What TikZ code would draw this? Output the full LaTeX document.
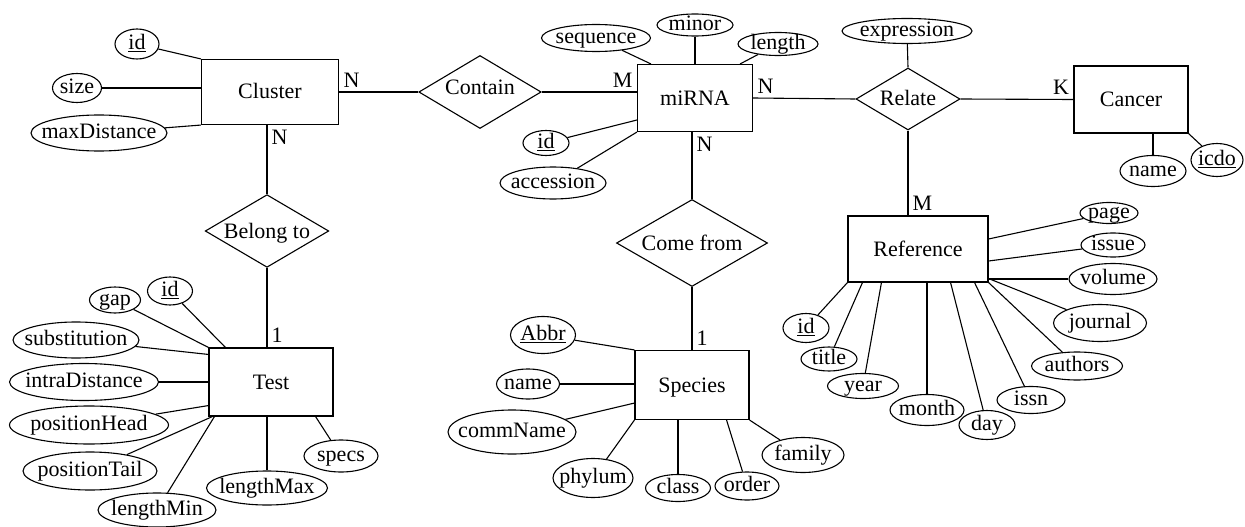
\documentclass[tikz,border=0pt]{standalone}
\usepackage{fontspec}
\setmainfont{Liberation Serif}
\usetikzlibrary{shapes.geometric}

\begin{document}
\begin{tikzpicture}[x=1pt, y=-1pt, line width=1.1pt, font=\fontsize{22}{26}\selectfont,
  entity/.style 2 args={rectangle, draw, inner sep=0pt, text height=18pt, text depth=4pt, minimum width=#1, minimum height=#2},
  relation/.style 2 args={diamond, draw, aspect=1.7, inner sep=0pt, text height=18pt, text depth=4pt, minimum width=#1, minimum height=#2},
  attr/.style n args={3}{ellipse, draw, inner sep=0pt, minimum width=#1, minimum height=#2, label={[inner sep=0pt, text height=15pt, text depth=4pt]center:#3}},
  card/.style={inner xsep=4pt, inner ysep=4pt, text height=15pt, text depth=0pt}]
  \useasboundingbox (0,0) rectangle (1245,527);

  \node[entity={137}{65}] (cluster) at (270,92) {Cluster};
  \node[entity={115}{67}] (mirna) at (695,98) {miRNA};
  \node[entity={114}{67}] (cancer) at (1131,99.5) {Cancer};
  \node[entity={140}{66}] (reference) at (918,249) {Reference};
  \node[entity={114}{69}] (species) at (692,385) {Species};
  \node[entity={124}{68}] (test) at (271,382) {Test};

  \node[relation={119}{73}, text depth=13pt] (contain) at (480,92) {Contain};
  \node[relation={104}{62}] (relate) at (908,99) {Relate};
  \node[relation={151}{87}] (comefrom) at (692,243) {Come from};
  \node[relation={120}{72}] (belongto) at (267,231) {Belong to};

  \draw (cluster.east) -- (contain.west);
  \draw (contain.east) -- (contain.east -| mirna.west);
  \draw (mirna.east) -- (relate.west);
  \draw (relate.east) -- (cancer.west);
  \draw (relate.south) -- (relate.south |- reference.north);
  \draw (belongto.north |- cluster.south) -- (belongto.north);
  \draw (belongto.south) -- (belongto.south |- test.north);
  \draw (comefrom.north |- mirna.south) -- (comefrom.north);
  \draw (comefrom.south) -- (species.north);

  \node[card, anchor=south west] (ncluster) at (cluster.east) {N};
  \node[card, anchor=north west] (nbelong) at (belongto.north |- cluster.south) {N};
  \node[card, anchor=south east] (mcontain) at (contain.east -| mirna.west) {M};
  \node[card, anchor=south west] (nrelate) at (mirna.east) {N};
  \node[card, anchor=north west] (ncome) at (comefrom.north |- mirna.south) {N};
  \node[card, anchor=south east] (kcancer) at (cancer.west) {K};
  \node[card, anchor=south west] (mreference) at (relate.south |- reference.north) {M};
  \node[card, anchor=south west] (onetest) at (belongto.south |- test.north) {1};
  \node[card, anchor=south west] (onespecies) at (comefrom.south |- species.north) {1};

  \node[attr={44}{30}{\underline{id}}] (clusterid) at (137,44) {};
  \node[attr={49}{29}{size}] (clustersize) at (77,88) {};
  \node[attr={136}{36}{maxDistance}] (maxdistance) at (99,133) {};
  \draw (clusterid) -- (cluster.north west);
  \draw (clustersize) -- (clustersize -| cluster.west);
  \draw (maxdistance) -- (cluster.south west);

  \node[attr={109}{27}{sequence}] (sequence) at (596,38) {};
  \node[attr={76}{22}{minor}] (minor) at (695,25) {};
  \node[attr={80}{23}{length}] (length) at (778,44) {};
  \node[attr={46}{25}{\underline{id}}] (mirnaid) at (546,143) {};
  \node[attr={106}{32}{accession}] (accession) at (553,183) {};
  \draw (sequence) -- ([xshift=14pt]mirna.north west);
  \draw (minor) -- (minor |- mirna.north);
  \draw (length) -- ([xshift=-13pt]mirna.north east);
  \draw (mirnaid) -- ([yshift=-22pt]mirna.west);
  \draw (accession) -- (mirna.south west);

  \node[attr={130}{25}{expression}] (expression) at (907,31) {};
  \draw (expression) -- (relate.north);

  \node[attr={66}{31}{name}] (cancername) at (1153,171) {};
  \node[attr={52}{33}{\underline{icdo}}] (icdo) at (1217,160) {};
  \draw (cancername) -- (cancername |- cancer.south);
  \draw (icdo) -- (cancer.south east);

  \node[attr={58}{21}{page}] (page) at (1109,213) {};
  \node[attr={64}{24}{issue}] (issue) at (1113,245) {};
  \node[attr={88}{31}{volume}] (volume) at (1113,279) {};
  \node[attr={93}{37}{journal}] (journal) at (1100,323) {};
  \node[attr={91}{28}{authors}] (authors) at (1077,366) {};
  \node[attr={68}{27}{issn}] (issn) at (1031,400) {};
  \node[attr={56}{29}{day}] (day) at (987,425) {};
  \node[attr={74}{31}{month}] (month) at (927,410) {};
  \node[attr={71}{25}{year}] (year) at (863,386) {};
  \node[attr={56}{24}{title}] (title) at (829,359) {};
  \node[attr={46}{29}{\underline{id}}] (referenceid) at (806,328) {};
  \draw (page) -- ([yshift=10pt]reference.east);
  \draw (issue) -- ([yshift=-12pt]reference.east);
  \draw (volume) -- (volume -| reference.east);
  \draw (journal) -- ([yshift=4pt]reference.south east);
  \draw (authors) -- (reference.south east);
  \draw (issn) -- ([xshift=-14pt]reference.south east);
  \draw (day) -- ([xshift=-38pt]reference.south east);
  \draw (month) -- (month |- reference.south);
  \draw (year) -- ([xshift=34pt]reference.south west);
  \draw (title) -- ([xshift=15pt]reference.south west);
  \draw (referenceid) -- (reference.south west);

  \node[attr={65}{37}{\underline{Abbr}}] (abbr) at (543,335) {};
  \node[attr={63}{30}{name}] (speciesname) at (528,384) {};
  \node[attr={128}{44}{commName}] (commname) at (512,432) {};
  \node[attr={80}{39}{phylum}] (phylum) at (593,478) {};
  \node[attr={65}{27}{class}] (class) at (678,488) {};
  \node[attr={64}{28}{order}] (order) at (747,486) {};
  \node[attr={82}{35}{family}] (family) at (803,455) {};
  \draw (abbr) -- (species.north west);
  \draw (speciesname) -- (speciesname -| species.west);
  \draw (commname) -- ([yshift=17pt]species.south west);
  \draw (phylum) -- (species.south west);
  \draw (class) -- (class |- species.south);
  \draw (order) -- ([xshift=-23pt]species.south east);
  \draw (family) -- (species.south east);

  \node[attr={45}{28}{\underline{id}}] (testid) at (170,291) {};
  \node[attr={51}{26}{gap}] (gap) at (115,300) {};
  \node[attr={126}{36}{substitution}] (substitution) at (76,340) {};
  \node[attr={149}{37}{intraDistance}] (intradistance) at (84,382) {};
  \node[attr={159}{38}{positionHead}] (positionhead) at (89,425) {};
  \node[attr={134}{38}{positionTail}] (positiontail) at (90,471) {};
  \node[attr={118}{34}{lengthMin}] (lengthmin) at (157,510) {};
  \node[attr={121}{34}{lengthMax}] (lengthmax) at (267,488) {};
  \node[attr={74}{32}{specs}] (specs) at (341,456) {};
  \draw (testid) -- ([xshift=17pt]test.north west);
  \draw (gap) -- (test.north west);
  \draw (substitution) -- ([yshift=-7pt]test.north west);
  \draw (intradistance) -- (intradistance -| test.west);
  \draw (positionhead) -- ([yshift=11pt]test.south west);
  \draw (positiontail) -- ([xshift=4pt]test.south west);
  \draw (lengthmin) -- ([xshift=6pt]test.south west);
  \draw (lengthmax) -- (lengthmax |- test.south);
  \draw (specs) -- ([xshift=-18pt]test.south east);
\end{tikzpicture}
\end{document}
